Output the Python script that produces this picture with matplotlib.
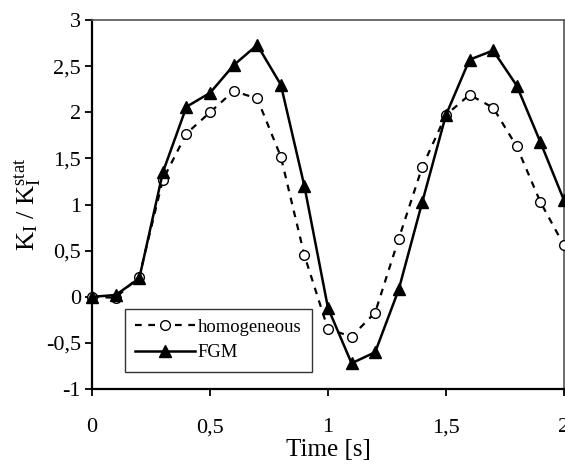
import numpy as np
import matplotlib
matplotlib.use('Agg')
import matplotlib.pyplot as plt

plt.rcParams['font.family'] = ['Liberation Serif', 'DejaVu Serif']
plt.rcParams['mathtext.fontset'] = 'custom'
plt.rcParams['mathtext.rm'] = 'Liberation Serif'
plt.rcParams['mathtext.it'] = 'Liberation Serif'

time = [0.0, 0.1, 0.2, 0.3, 0.4, 0.5, 0.6, 0.7, 0.8, 0.9, 1.0,
        1.1, 1.2, 1.3, 1.4, 1.5, 1.6, 1.7, 1.8, 1.9, 2.0]
homogeneous = [0.0, -0.01, 0.22, 1.27, 1.77, 2.0, 2.23, 2.15, 1.52, 0.45, -0.35,
               -0.43, -0.17, 0.63, 1.41, 1.97, 2.19, 2.05, 1.63, 1.03, 0.56]
fgm = [0.0, 0.02, 0.2, 1.35, 2.06, 2.21, 2.51, 2.73, 2.3, 1.2, -0.12,
       -0.72, -0.6, 0.08, 1.03, 1.97, 2.57, 2.67, 2.29, 1.68, 1.05]

x_ticks = [0, 0.5, 1, 1.5, 2]
x_labels = ['0', '0,5', '1', '1,5', '2']
y_ticks = [-1, -0.5, 0, 0.5, 1, 1.5, 2, 2.5, 3]
y_labels = ['-1', '-0,5', '0', '0,5', '1', '1,5', '2', '2,5', '3']

fig = plt.figure(figsize=(5.65, 4.66), dpi=100)
ax = fig.add_axes([0.163, 0.165, 0.835, 0.792])

ax.plot(time, homogeneous, color='black', lw=1.6, ls=(0, (3, 3)),
        marker='o', ms=7, mfc='white', mec='black', mew=1.0,
        label='homogeneous', clip_on=False, zorder=3)
ax.plot(time, fgm, color='black', lw=1.8, ls='-',
        marker='^', ms=8.5, mfc='black', mec='black',
        label='FGM', clip_on=False, zorder=4)

ax.set_xlim(0, 2)
ax.set_ylim(-1, 3)
ax.set_xticks(x_ticks)
ax.set_xticklabels(x_labels, fontsize=16)
ax.set_yticks(y_ticks)
ax.set_yticklabels(y_labels, fontsize=16)
ax.tick_params(axis='x', direction='out', length=5, width=1.3, pad=16)
ax.tick_params(axis='y', direction='out', length=5, width=1.3, pad=3)

for side in ['left', 'bottom']:
    ax.spines[side].set_linewidth(1.6)
    ax.spines[side].set_color('black')
for side in ['top', 'right']:
    ax.spines[side].set_linewidth(1.2)
    ax.spines[side].set_color('#555555')

ax.set_xlabel('Time [s]', fontsize=18, labelpad=1)
ax.set_ylabel(r'K$_\mathrm{I}$ / K$_\mathrm{I}^\mathrm{stat}$', fontsize=19, labelpad=2)

leg = ax.legend(loc='upper left', bbox_to_anchor=(0.07, 0.218), fontsize=13.4,
                frameon=True, fancybox=False, edgecolor='black',
                handlelength=3.2, borderpad=0.55, labelspacing=0.45,
                handletextpad=0.15, borderaxespad=0)
leg.get_frame().set_linewidth(1.0)

plt.savefig('out.png', dpi=100)
